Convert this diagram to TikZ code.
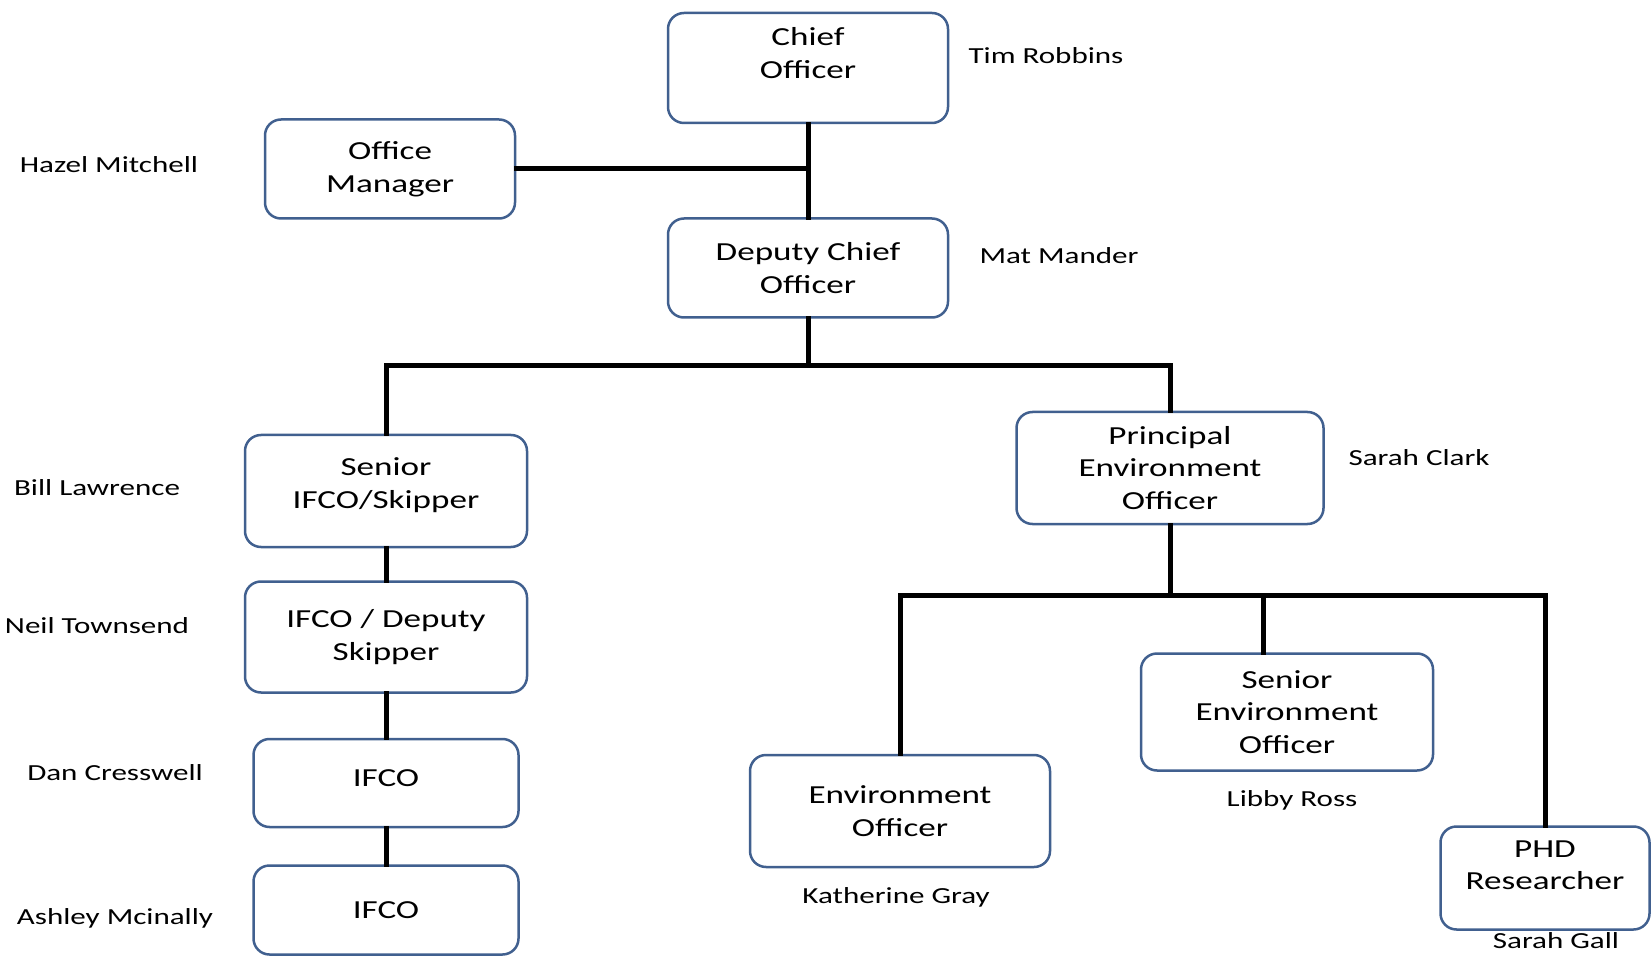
\documentclass[tikz,border=0pt]{standalone}
\usepackage{fontspec}
\setmainfont[FakeStretch=1.35]{Carlito}
\usepackage{tikz}
\usetikzlibrary{calc}
\definecolor{boxblue}{HTML}{41608F}

\begin{document}
\begin{tikzpicture}[x=0.5pt,y=-0.5pt,
    post/.style={draw=boxblue,line width=1.25pt,rounded corners=8pt,align=center,
      font=\fontsize{13}{16.3}\selectfont,inner sep=0pt},
    person/.style={font=\fontsize{11.5}{14}\selectfont,inner sep=0pt},
    wire/.style={line width=2.5pt,line cap=rect}]
    \useasboundingbox (0,0) rectangle (1652,956);

    \node[post,minimum width=140pt,minimum height=55pt,text depth=15pt] (chief) at (808,68) {Chief\\Officer};
    \node[post,minimum width=125pt,minimum height=49.5pt] (office) at (390,169) {Office\\Manager};
    \node[post,minimum width=140pt,minimum height=49.5pt] (deputy) at (808,268) {Deputy Chief\\Officer};
    \node[post,minimum width=141pt,minimum height=56pt,text depth=8pt] (senior) at (386,491) {Senior\\IFCO/Skipper};
    \node[post,minimum width=141pt,minimum height=55.5pt] (ifcodep) at (386,637) {IFCO / Deputy\\Skipper};
    \node[post,minimum width=132.5pt,minimum height=44pt,text depth=5pt] (ifcoA) at (386,783) {IFCO};
    \node[post,minimum width=132.5pt,minimum height=44.5pt] (ifcoB) at (386,910) {IFCO};
    \node[post,minimum width=153.5pt,minimum height=56pt] (principal) at (1170,468) {Principal\\Environment\\Officer};
    \node[post,minimum width=146pt,minimum height=58.5pt] (seniorenv) at (1287,712) {Senior\\Environment\\Officer};
    \node[post,minimum width=150pt,minimum height=56pt] (envoff) at (900,811) {Environment\\Officer};
    \node[post,minimum width=104.5pt,minimum height=51.5pt,text depth=13pt] (phd) at (1545,878) {PHD\\Researcher};

    \node[person] (timr) at (1046,56) {Tim Robbins};
    \node[person] (hazelm) at (109,165) {Hazel Mitchell};
    \node[person] (matm) at (1059,256) {Mat Mander};
    \node[person] (billl) at (97,488) {Bill Lawrence};
    \node[person] (neilt) at (97,626) {Neil Townsend};
    \node[person] (danc) at (115,773) {Dan Cresswell};
    \node[person] (ashleym) at (115,918) {Ashley Mcinally};
    \node[person] (sarahc) at (1419,458) {Sarah Clark};
    \node[person] (libbyr) at (1292,800) {Libby Ross};
    \node[person] (katherineg) at (896,897) {Katherine Gray};
    \node[person] (sarahg) at (1556,941) {Sarah Gall};

    \coordinate (bus1) at (808,366);
    \coordinate (bus2) at (1170,595);
    \coordinate (tap) at (1263,595);

    \draw[wire] (chief.south) -- (deputy.north);
    \draw[wire] (office.east) -- (office.east -| chief.south);
    \draw[wire] (deputy.south) -- (bus1);
    \draw[wire] (senior.north) |- (bus1) -| (principal.north);
    \draw[wire] (senior.south) -- (ifcodep.north);
    \draw[wire] (ifcodep.south) -- (ifcoA.north);
    \draw[wire] (ifcoA.south) -- (ifcoB.north);
    \draw[wire] (principal.south) -- (bus2);
    \draw[wire] (envoff.north) |- (bus2) -| (phd.north);
    \draw[wire] (tap) -- (tap |- seniorenv.north);
\end{tikzpicture}
\end{document}
